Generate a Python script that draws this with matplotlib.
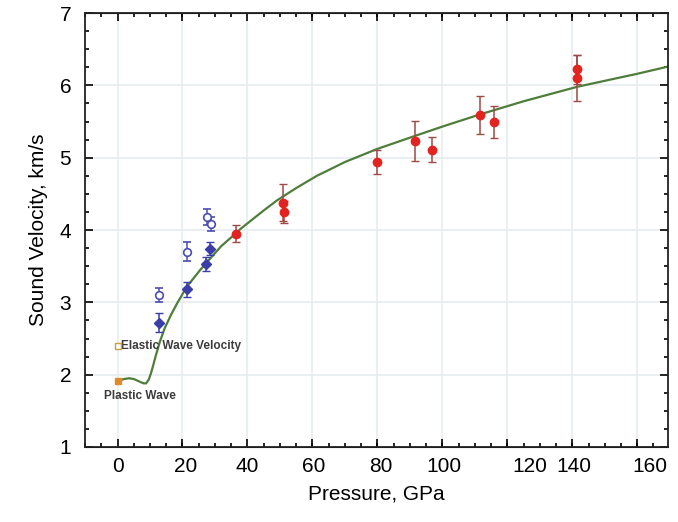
import matplotlib
matplotlib.use("Agg")
import matplotlib.pyplot as plt
from matplotlib.ticker import MultipleLocator, FixedLocator, NullFormatter

plt.rcParams['font.family'] = ['Liberation Sans Narrow', 'Liberation Sans', 'DejaVu Sans']

# red points (filled circles)
red_p = [36.5, 50.9, 51.2, 79.9, 91.5, 96.8, 111.7, 115.8, 141.5, 141.5]
red_v = [3.95, 4.38, 4.25, 4.94, 5.23, 5.11, 5.59, 5.49, 6.22, 6.10]
red_e = [0.12, 0.25, 0.15, 0.17, 0.28, 0.17, 0.26, 0.22, 0.20, 0.32]

# blue filled diamonds
bf_p = [12.9, 21.4, 27.1, 28.6]
bf_v = [2.72, 3.18, 3.53, 3.74]
bf_e = [0.13, 0.10, 0.10, 0.09]

# blue open circles
bo_p = [12.9, 21.4, 27.4, 28.9]
bo_v = [3.10, 3.70, 4.18, 4.08]
bo_e = [0.10, 0.13, 0.11, 0.10]

# green fit curve
curve_p = [0, 2, 3.5, 5, 6.5, 8, 8.8, 9.6, 10.3, 11, 11.7, 13, 14.5, 16.5, 18.4,
           21.4, 25.5, 29.6, 32, 34.8, 38, 41.9, 45, 49.1, 55, 61.4, 70, 79.9,
           91.5, 100, 111.7, 125, 141.5, 153.8, 160, 169.5]
curve_v = [1.91, 1.94, 1.95, 1.94, 1.91, 1.88, 1.88, 1.93, 2.02, 2.13, 2.25,
           2.45, 2.64, 2.83, 2.99, 3.22, 3.45, 3.66, 3.78, 3.89, 4.02, 4.16,
           4.27, 4.41, 4.58, 4.75, 4.94, 5.12, 5.30, 5.43, 5.60, 5.78, 5.98,
           6.10, 6.16, 6.26]

plastic_p, plastic_v = [0.0], [1.91]
elastic_p, elastic_v = [0.0], [2.40]

xtick_pos = [0, 21, 40, 60.5, 81, 100.5, 127, 140.5, 164]
xtick_lab = ['0', '20', '40', '60', '80', '100', '120', '140', '160']

fig = plt.figure(figsize=(6.78, 5.22), dpi=100)
ax = fig.add_axes([0.1254, 0.1437, 0.86, 0.8313])

ax.plot(curve_p, curve_v, color='#4f7d3c', lw=1.6, zorder=2)

ax.errorbar(red_p, red_v, yerr=red_e, fmt='o', ms=6, color='#e3231f',
            ecolor='#9c4a46', elinewidth=1.1, capsize=3, zorder=4)
ax.errorbar(bf_p, bf_v, yerr=bf_e, fmt='D', ms=5, color='#3a3ea6',
            ecolor='#3a3ea6', elinewidth=1.1, capsize=3, zorder=4)
ax.errorbar(bo_p, bo_v, yerr=bo_e, fmt='o', ms=5.5, mfc='white', mec='#4a4eb0',
            mew=1.2, ecolor='#4a4eb0', elinewidth=1.1, capsize=3, zorder=4)

ax.plot(plastic_p, plastic_v, 's', ms=4.5, color='#e08a2a', zorder=5)
ax.plot(elastic_p, elastic_v, 's', ms=4, mfc='white', mec='#c9a040', mew=1, zorder=5)

ax.text(1.1, 2.40, 'Elastic Wave Velocity', fontsize=8.5, fontweight='bold',
        color='#3c3c3c', va='center', ha='left', family=['Liberation Sans', 'DejaVu Sans'])
ax.text(-4.3, 1.70, 'Plastic Wave', fontsize=8.5, fontweight='bold',
        color='#3c3c3c', va='center', ha='left', family=['Liberation Sans', 'DejaVu Sans'])

ax.set_xlim(-10, 169.5)
ax.set_ylim(1, 7)

# tick marks every 20 GPa (major) and 5 GPa (minor); labels placed as in the source
ax.xaxis.set_major_locator(FixedLocator(xtick_pos))
ax.set_xticklabels(xtick_lab)
ax.xaxis.set_minor_locator(MultipleLocator(5))
ax.tick_params(axis='x', which='major', length=0, pad=7, labelsize=15)
ax.tick_params(axis='x', which='minor', direction='in', length=3, width=1.2,
               top=True, bottom=True)
sec = ax.secondary_xaxis('bottom')
sec.xaxis.set_major_locator(MultipleLocator(20))
sec.xaxis.set_major_formatter(NullFormatter())
sec.tick_params(direction='in', length=6, width=1.2)
sec2 = ax.secondary_xaxis('top')
sec2.xaxis.set_major_locator(MultipleLocator(20))
sec2.xaxis.set_major_formatter(NullFormatter())
sec2.tick_params(direction='in', length=6, width=1.2)

ax.yaxis.set_major_locator(MultipleLocator(1))
ax.yaxis.set_minor_locator(MultipleLocator(0.25))
ax.tick_params(axis='y', which='major', direction='in', length=6, width=1.2,
               left=True, right=True, labelsize=15, pad=10)
ax.tick_params(axis='y', which='minor', direction='in', length=3, width=1.2,
               left=True, right=True)

for s in ax.spines.values():
    s.set_linewidth(1.3)
    s.set_color('#222222')

for gx in range(0, 170, 20):
    ax.axvline(gx, color='#e6ecf0', lw=1.2, zorder=0)
for gy in range(2, 7):
    ax.axhline(gy, color='#e6ecf0', lw=1.2, zorder=0)

ax.set_xlabel('Pressure, GPa', fontsize=15, labelpad=6)
ax.set_ylabel('Sound Velocity, km/s', fontsize=15, labelpad=8)

fig.savefig('out.png', dpi=100)
